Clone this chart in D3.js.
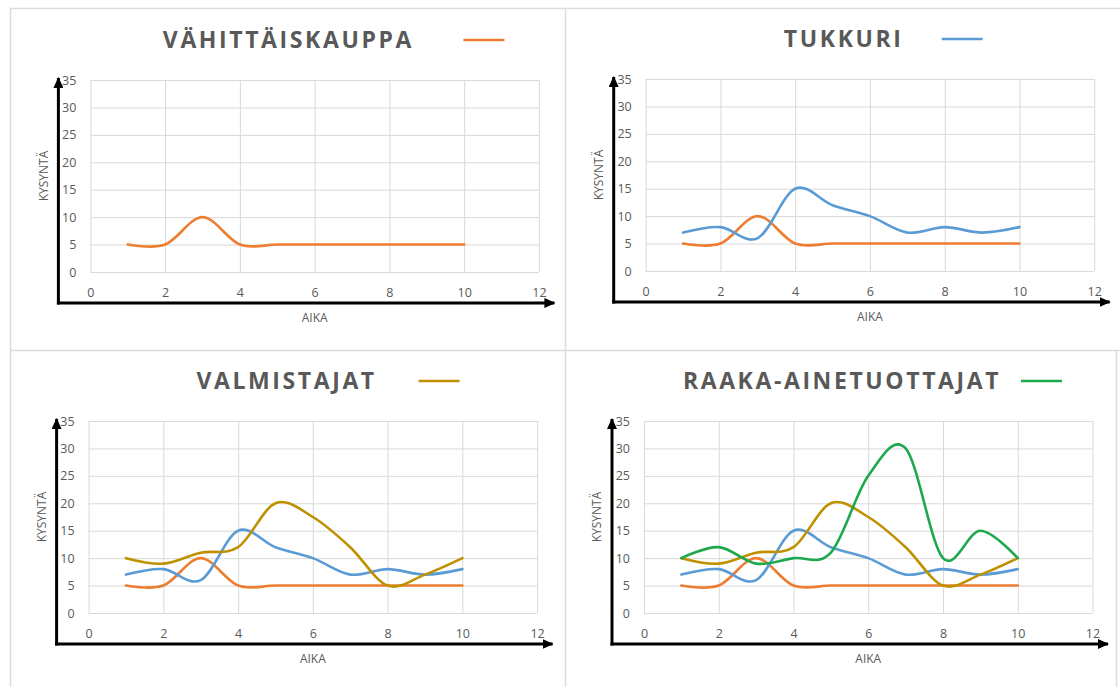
<!DOCTYPE html>
<html>
<head>
<meta charset="utf-8">
<script src="https://cdn.jsdelivr.net/npm/d3@7"></script>
<style>
  body { margin: 0; background: #fff; }
  svg { display: block; }
</style>
</head>
<body>
<svg id="chart"></svg>
<script>
    // data
    const aika = [1, 2, 3, 4, 5, 6, 7, 8, 9, 10];
    const vahittaiskauppa = [5, 5, 10, 5, 5, 5, 5, 5, 5, 5];
    const tukkuri = [7, 8, 6, 15, 12, 10, 7, 8, 7, 8];
    const valmistajat = [10, 9, 11, 12, 20, 17.5, 12, 5, 7, 10];
    const raakaAinetuottajat = [10, 12, 9, 10, 11, 25, 30, 10, 15, 10];

    const xTicks = [0, 2, 4, 6, 8, 10, 12];
    const yTicks = [0, 5, 10, 15, 20, 25, 30, 35];
    const titles = ['VÄHITTÄISKAUPPA', 'TUKKURI', 'VALMISTAJAT', 'RAAKA-AINETUOTTAJAT'];
    const colors = ['#ed7d31', '#5b9bd5', '#bf9000', '#1ea84e'];
    const seriesList = [vahittaiskauppa, tukkuri, valmistajat, raakaAinetuottajat];

    const width = 1120;
    const height = 687;
    const plotW = 448.5;
    const plotH = 192;
    const gray = '#595959';

    // plot area corner of each panel, legend line offset from plot left
    const panels = [
        { left: 90.4, top: 80, legendX: 373 },
        { left: 645.7, top: 79, legendX: 296 },
        { left: 88.6, top: 421, legendX: 330 },
        { left: 644, top: 421, legendX: 377 }
    ];

    const svg = d3.select('#chart').attr('width', width).attr('height', height);

    // panel frames
    const frame = [
        [10, 8.5, 1120, 8.5],
        [10.5, 8, 10.5, 687],
        [565.5, 8, 565.5, 687],
        [10, 350.5, 1120, 350.5],
        [1116.5, 350, 1116.5, 687]
    ];
    svg.append('g').selectAll('line').data(frame).join('line')
        .attr('x1', d => d[0]).attr('y1', d => d[1])
        .attr('x2', d => d[2]).attr('y2', d => d[3])
        .attr('stroke', '#dcdcdc').attr('stroke-width', 1.5);

    svg.append('defs').append('marker')
        .attr('id', 'arrow')
        .attr('viewBox', '0 -5 11 10')
        .attr('refX', 10)
        .attr('refY', 0)
        .attr('markerUnits', 'userSpaceOnUse')
        .attr('markerWidth', 11)
        .attr('markerHeight', 10)
        .attr('orient', 'auto')
        .append('path')
        .attr('d', 'M0,-5L11,0L0,5Z')
        .attr('fill', '#000');

    const x = d3.scaleLinear().domain([0, 12]).range([0, plotW]);
    const y = d3.scaleLinear().domain([0, 35]).range([plotH, 0]);
    const line = d3.line()
        .x(d => x(d[0]))
        .y(d => y(d[1]))
        .curve(d3.curveCardinal.tension(0));

    const drawPanel = (p, i) => {
        const g = svg.append('g').attr('transform', `translate(${p.left},${p.top})`);

        // grid + tick labels
        const gx = g.append('g')
            .attr('transform', `translate(0,${plotH})`)
            .call(d3.axisBottom(x).tickValues(xTicks).tickSize(-plotH).tickSizeOuter(0).tickPadding(16));
        const gy = g.append('g')
            .call(d3.axisLeft(y).tickValues(yTicks).tickSize(-plotW).tickSizeOuter(0).tickPadding(14));
        [gx, gy].forEach(a => {
            a.select('.domain').remove();
            a.selectAll('.tick line').attr('stroke', '#d9d9d9').attr('stroke-width', 1);
            a.selectAll('.tick text')
                .attr('fill', gray)
                .attr('font-family', 'Open Sans, sans-serif')
                .attr('font-size', 12.5);
        });

        // series, earlier ones underneath
        seriesList.slice(0, i + 1).forEach((s, k) => {
            g.append('path')
                .datum(aika.map((a, j) => [a, s[j]]))
                .attr('fill', 'none')
                .attr('stroke', colors[k])
                .attr('stroke-width', 2.6)
                .attr('stroke-linecap', 'round')
                .attr('d', line);
        });

        // title + legend line
        g.append('text')
            .attr('x', 198)
            .attr('y', -40)
            .attr('dy', '0.35em')
            .attr('text-anchor', 'middle')
            .attr('font-family', 'Open Sans, sans-serif')
            .attr('font-weight', 'bold')
            .attr('font-size', 23)
            .attr('letter-spacing', 2.6)
            .attr('fill', gray)
            .text(titles[i]);
        g.append('line')
            .attr('x1', p.legendX).attr('x2', p.legendX + 41)
            .attr('y1', -40).attr('y2', -40)
            .attr('stroke', colors[i])
            .attr('stroke-width', 2.6);

        // axis titles
        g.append('text')
            .attr('transform', `translate(-47,${plotH / 2}) rotate(-90)`)
            .attr('dy', '0.35em')
            .attr('text-anchor', 'middle')
            .attr('font-family', 'Open Sans, sans-serif')
            .attr('font-size', 12)
            .attr('fill', gray)
            .text('KYSYNTÄ');
        g.append('text')
            .attr('x', plotW / 2)
            .attr('y', plotH + 46)
            .attr('dy', '0.35em')
            .attr('text-anchor', 'middle')
            .attr('font-family', 'Open Sans, sans-serif')
            .attr('font-size', 12)
            .attr('fill', gray)
            .text('AIKA');

        // black arrow axes
        const ax = -32;
        const ay = plotH + 31;
        g.append('line')
            .attr('x1', ax).attr('y1', ay + 1.5)
            .attr('x2', ax).attr('y2', -2)
            .attr('stroke', '#000').attr('stroke-width', 3)
            .attr('marker-end', 'url(#arrow)');
        g.append('line')
            .attr('x1', ax - 1.5).attr('y1', ay)
            .attr('x2', plotW + 15.5).attr('y2', ay)
            .attr('stroke', '#000').attr('stroke-width', 3)
            .attr('marker-end', 'url(#arrow)');
    };

    panels.forEach(drawPanel);
</script>
</body>
</html>
